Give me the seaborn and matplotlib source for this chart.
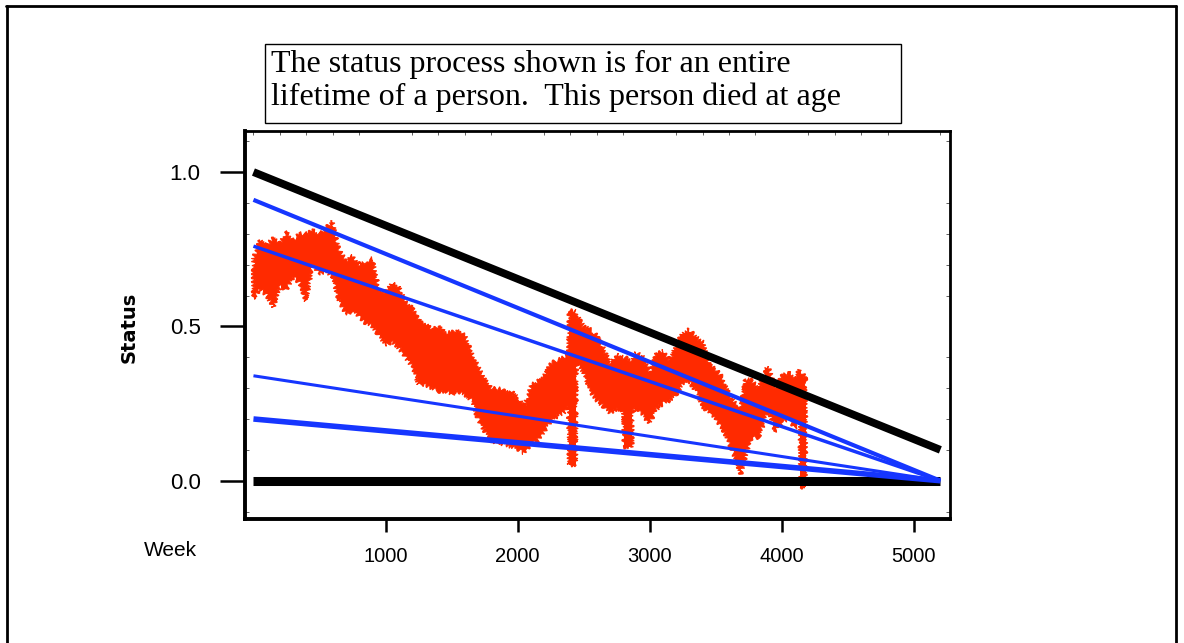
import matplotlib
matplotlib.use("Agg")
import matplotlib.pyplot as plt
import seaborn as sns
import pandas as pd
from matplotlib.lines import Line2D
from matplotlib.ticker import MultipleLocator

sns.set_theme(style="white")
plt.rcParams['font.family'] = ['Liberation Sans', 'DejaVu Sans']

# ---- data ----
red_weeks = [0, 50, 100, 150, 200, 250, 300, 350, 400, 450, 500, 550, 600, 640,
             700, 750, 800, 850, 900, 950, 1000, 1050, 1100, 1150, 1200, 1250,
             1300, 1350, 1400, 1450, 1500, 1550, 1600, 1650, 1700, 1750, 1800,
             1850, 1900, 1950, 2000, 2050, 2100, 2150, 2200, 2250, 2300, 2350,
             2385, 2390, 2440, 2445, 2500, 2550, 2600, 2650, 2700, 2750, 2800,
             2805, 2865, 2870, 2900, 2950, 3000, 3050, 3100, 3150, 3200, 3250,
             3300, 3350, 3400, 3450, 3500, 3550, 3600, 3650, 3690, 3725, 3770,
             3825, 3875, 3900, 3950, 4000, 4050, 4100, 4138, 4140, 4180]
red_hi = [0.72, 0.78, 0.76, 0.79, 0.77, 0.81, 0.78, 0.80, 0.80, 0.81, 0.80, 0.82, 0.84, 0.76,
          0.71, 0.73, 0.70, 0.71, 0.72, 0.62, 0.61, 0.64, 0.63, 0.58, 0.56, 0.52,
          0.51, 0.49, 0.50, 0.48, 0.48, 0.49, 0.47, 0.42, 0.37, 0.33, 0.30,
          0.30, 0.29, 0.29, 0.27, 0.24, 0.31, 0.32, 0.34, 0.38, 0.39, 0.40,
          0.41, 0.55, 0.55, 0.54, 0.50, 0.49, 0.47, 0.43, 0.38, 0.41, 0.40,
          0.40, 0.39, 0.39, 0.415, 0.40, 0.35, 0.41, 0.42, 0.39, 0.44, 0.48,
          0.49, 0.465, 0.45, 0.38, 0.36, 0.335, 0.28, 0.25, 0.24, 0.33, 0.325,
          0.30, 0.36, 0.37, 0.30, 0.34, 0.35, 0.335, 0.36, 0.36, 0.33]
red_lo = [0.59, 0.62, 0.60, 0.56, 0.63, 0.62, 0.66, 0.64, 0.58, 0.70, 0.67, 0.68, 0.66, 0.59,
          0.54, 0.55, 0.53, 0.51, 0.50, 0.47, 0.44, 0.45, 0.43, 0.40, 0.37, 0.31,
          0.31, 0.30, 0.29, 0.29, 0.28, 0.29, 0.28, 0.26, 0.20, 0.16, 0.13,
          0.12, 0.12, 0.11, 0.10, 0.09, 0.12, 0.13, 0.16, 0.19, 0.21, 0.22,
          0.25, 0.05, 0.05, 0.38, 0.35, 0.29, 0.26, 0.24, 0.22, 0.23, 0.23,
          0.11, 0.11, 0.23, 0.23, 0.21, 0.185, 0.23, 0.25, 0.26, 0.28, 0.31,
          0.32, 0.29, 0.24, 0.22, 0.20, 0.17, 0.12, 0.07, 0.02, 0.08, 0.14,
          0.14, 0.20, 0.23, 0.16, 0.19, 0.20, 0.17, 0.20, -0.02, -0.02]

# weeks where the status drops abruptly (start, end of each drop)
drop_spans = [(2390, 2440), (2805, 2865), (4140, 4180)]

line_weeks = [0, 5200]
black_top = [1.0, 0.1]
black_zero = [0.0, 0.0]
blue_a = [0.91, 0.0]
blue_b = [0.76, 0.0]
blue_c = [0.34, 0.0]
blue_d = [0.20, 0.0]

x_ticks = [1000, 2000, 3000, 4000, 5000]
y_ticks = [0.0, 0.5, 1.0]
y_ticklabels = ["0.0", "0.5", "1.0"]
note_text = ("The status process shown is for an entire\n"
             "lifetime of a person.  This person died at age")

RED = "#ff2a00"
BLUE = "#1636ff"

fig = plt.figure(figsize=(11.84, 6.43), dpi=100)
fig.patch.set_facecolor("white")
ax = fig.add_axes([245 / 1184, 1 - 519 / 643, 705 / 1184, 388 / 643])
ax.set_facecolor("white")

# red status band: upper envelope forward, lower envelope back
band_x = red_weeks + red_weeks[::-1]
band_y = red_hi + red_lo[::-1]
patches = ax.fill(band_x, band_y, color=RED, linewidth=0.8, edgecolor=RED,
                  zorder=2)
for p in patches:
    p.set_sketch_params(scale=2.2, length=4, randomness=3)

# clean drop bars (no jitter), taken from the same data
for (w0, w1) in drop_spans:
    i0, i1 = red_weeks.index(w0), red_weeks.index(w1)
    ax.fill_between(red_weeks[i0:i1 + 1], red_lo[i0:i1 + 1],
                    [min(red_hi[i0:i1 + 1]) - 0.03] * (i1 - i0 + 1),
                    color=RED, linewidth=0, zorder=2.1)

lines_df = pd.DataFrame({
    "week": line_weeks * 6,
    "value": black_top + black_zero + blue_a + blue_b + blue_c + blue_d,
    "series": sum([[s] * 2 for s in ["bt", "bz", "ba", "bb", "bc", "bd"]], []),
})
styles = {"bt": ("black", 5.6), "bz": ("black", 6.5), "ba": (BLUE, 3.0),
          "bb": (BLUE, 2.5), "bc": (BLUE, 2.2), "bd": (BLUE, 4.0)}
for key, (c, lw) in styles.items():
    sub = lines_df[lines_df["series"] == key]
    sns.lineplot(data=sub, x="week", y="value", color=c, linewidth=lw,
                 ax=ax, zorder=3, solid_capstyle="butt")

ax.set_xlim(-64, 5273)
ax.set_ylim(-0.124, 1.133)
ax.set_xticks(x_ticks)
ax.set_xticklabels([str(t) for t in x_ticks], fontsize=14.5)
ax.set_yticks(y_ticks)
ax.set_yticklabels(y_ticklabels, fontsize=16)
ax.tick_params(axis="y", direction="out", length=18, width=1.8, pad=14,
               left=True, colors="black")
ax.tick_params(axis="x", direction="out", length=9, width=1.8, pad=11,
               bottom=True, colors="black")
ax.yaxis.set_minor_locator(MultipleLocator(0.1))
ax.xaxis.set_minor_locator(MultipleLocator(200))
ax.tick_params(which="minor", direction="in", length=3, width=0.6,
               left=True, right=True, top=True, bottom=False, colors="#444444")
ax.set_xlabel("")
ax.set_ylabel("")
for side, sp in ax.spines.items():
    sp.set_visible(True)
    sp.set_color("black")
    sp.set_linewidth(2.8 if side in ("left", "bottom") else 2.0)

fig.text(197 / 1184, 1 - 550 / 643, "Week", ha="right", va="center",
         fontsize=15, color="black")
fig.text(129 / 1184, 1 - 327 / 643, "Status", rotation=90, ha="center",
         va="center", fontsize=14, fontweight="heavy", color="black",
         family=["DejaVu Sans", "Liberation Sans"])

# note box
fig.patches.append(plt.Rectangle((265 / 1184, 1 - 123 / 643), 636 / 1184,
                                 79 / 643, transform=fig.transFigure,
                                 facecolor="white", edgecolor="black",
                                 linewidth=1.0))
fig.text(271 / 1184, 1 - 50 / 643, note_text, ha="left", va="top",
         fontsize=23, color="black", linespacing=1.17,
         family=["Liberation Serif", "DejaVu Serif"])

# outer frame
for (x0, y0, x1, y1) in [(6, 6, 1176, 6), (6.5, 6, 6.5, 643), (1176, 6, 1176, 643)]:
    fig.add_artist(Line2D([x0 / 1184, x1 / 1184], [1 - y0 / 643, 1 - y1 / 643],
                          transform=fig.transFigure, color="black", linewidth=2.0))

fig.savefig("out.png", dpi=100)
